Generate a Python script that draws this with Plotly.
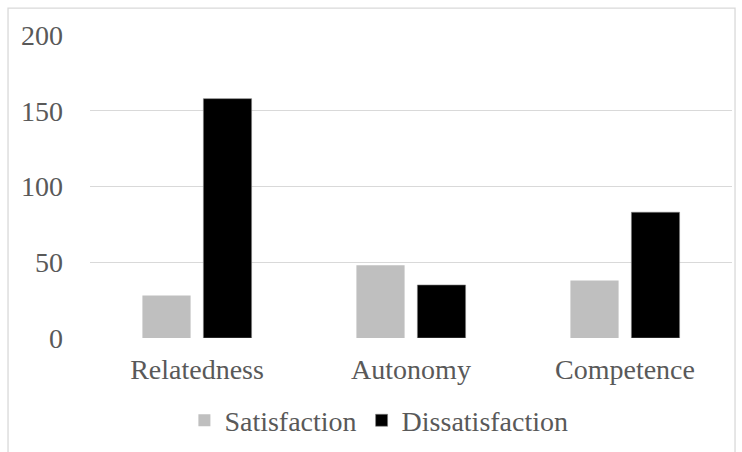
import plotly.graph_objects as go

categories = ["Relatedness", "Autonomy", "Competence"]
satisfaction = [28, 48, 38]
dissatisfaction = [158, 35, 83]
y_ticks = [0, 50, 100, 150, 200]

FONT = "Times New Roman, Liberation Serif, serif"
TEXT = "#595959"

fig = go.Figure()
fig.add_trace(go.Bar(name="Satisfaction", x=categories, y=satisfaction,
                     marker=dict(color="#bfbfbf", line=dict(width=0))))
fig.add_trace(go.Bar(name="Dissatisfaction", x=categories, y=dissatisfaction,
                     marker=dict(color="#000000", line=dict(color="#7f7f7f", width=0.6))))

fig.update_layout(
    width=742, height=452,
    margin=dict(l=90, r=10, t=35, b=114, autoexpand=False),
    paper_bgcolor="white", plot_bgcolor="white",
    barmode="group", bargap=0.43, bargroupgap=0.21,
    font=dict(family=FONT, size=28, color=TEXT),
    showlegend=True,
    legend=dict(orientation="h", x=0.45, xanchor="center", y=-0.19, yanchor="top",
                font=dict(family=FONT, size=28, color=TEXT),
                itemwidth=30, traceorder="normal"),
    xaxis=dict(showgrid=False, showline=False, zeroline=False, ticks="", automargin=False,
               tickfont=dict(family=FONT, size=28, color=TEXT), ticklabelstandoff=12),
    yaxis=dict(range=[0, 200], tickvals=y_ticks, showgrid=True, gridcolor="#d9d9d9",
               gridwidth=1.3, zeroline=False, showline=False, ticks="", automargin=False,
               tickfont=dict(family=FONT, size=28, color=TEXT), ticklabelstandoff=26),
    shapes=[dict(type="rect", xref="paper", yref="paper",
                 x0=-0.1277, x1=1.0047, y0=-0.5, y1=1.089,
                 line=dict(color="#d9d9d9", width=1.3), fillcolor="rgba(0,0,0,0)",
                 layer="below")],
)

fig.write_html("out.html")
